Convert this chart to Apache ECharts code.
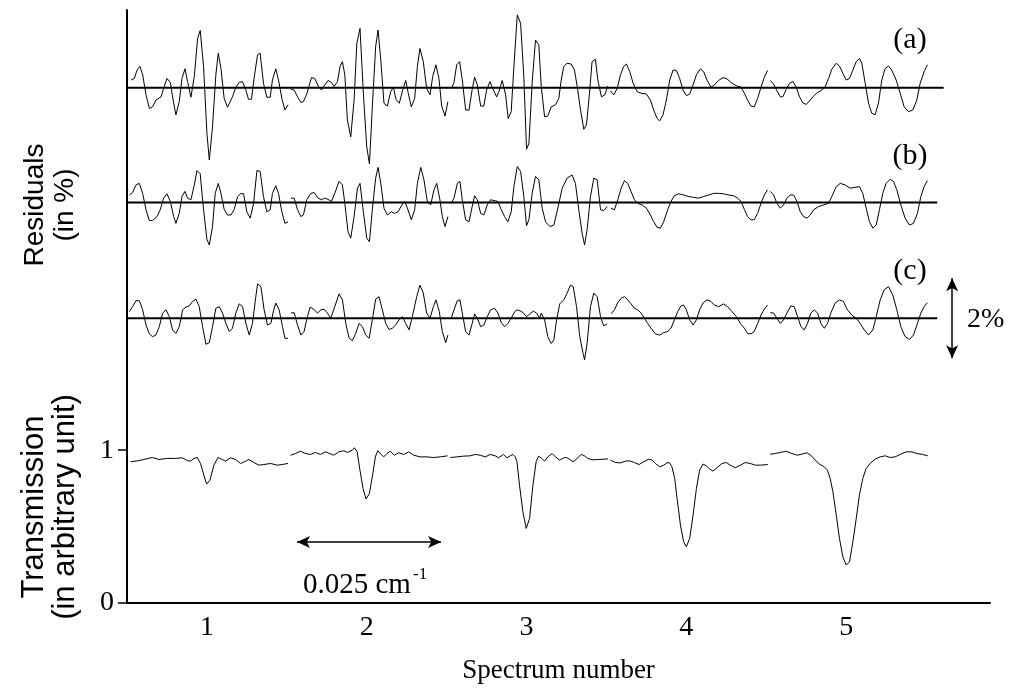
<!DOCTYPE html>
<html><head><meta charset="utf-8">
<script src="https://cdn.jsdelivr.net/npm/echarts@6/dist/echarts.min.js"></script>
<style>html,body{margin:0;padding:0;background:#fff}#c{width:1022px;height:693px}</style>
</head><body><div id="c"></div>
<script>
// Tick labels
const xTickValues = [1, 2, 3, 4, 5];
const yTickValues = [0, 1];

// Transmission (arbitrary unit), one array per spectrum: [spectrum position, transmission]
const transmission1 = [[0.523,0.924],[0.565,0.930],[0.606,0.939],[0.658,0.952],[0.700,0.939],[0.752,0.946],[0.804,0.946],[0.846,0.950],[0.877,0.932],[0.898,0.928],[0.919,0.946],[0.940,0.952],[0.960,0.913],[0.981,0.837],[0.998,0.778],[1.019,0.804],[1.044,0.902],[1.069,0.952],[1.096,0.939],[1.117,0.928],[1.148,0.950],[1.179,0.939],[1.210,0.913],[1.235,0.924],[1.263,0.939],[1.294,0.919],[1.325,0.902],[1.356,0.906],[1.398,0.913],[1.440,0.902],[1.471,0.906],[1.508,0.913]];
const transmission2 = [[1.523,0.967],[1.554,0.978],[1.585,0.993],[1.617,0.978],[1.648,0.972],[1.679,0.985],[1.710,0.972],[1.742,0.989],[1.769,0.978],[1.794,0.967],[1.825,0.989],[1.856,0.996],[1.881,0.985],[1.908,1.000],[1.923,1.015],[1.940,0.989],[1.956,0.880],[1.977,0.749],[1.996,0.680],[2.017,0.717],[2.040,0.858],[2.054,0.956],[2.069,0.996],[2.090,0.972],[2.106,0.956],[2.127,0.978],[2.148,0.993],[2.173,0.967],[2.200,0.983],[2.231,0.972],[2.263,0.989],[2.294,0.967],[2.335,0.956],[2.377,0.956],[2.419,0.952],[2.460,0.956],[2.506,0.963]];
const transmission3 = [[2.523,0.952],[2.565,0.956],[2.606,0.961],[2.648,0.963],[2.679,0.972],[2.710,0.967],[2.742,0.956],[2.773,0.972],[2.804,0.963],[2.825,0.950],[2.856,0.972],[2.877,0.950],[2.898,0.963],[2.915,0.972],[2.929,0.956],[2.940,0.924],[2.956,0.771],[2.977,0.597],[2.998,0.488],[3.019,0.553],[3.040,0.771],[3.060,0.924],[3.075,0.961],[3.096,0.946],[3.113,0.928],[3.133,0.956],[3.160,0.978],[3.181,0.956],[3.208,0.935],[3.233,0.950],[3.250,0.952],[3.271,0.939],[3.292,0.924],[3.317,0.946],[3.342,0.972],[3.363,0.963],[3.383,0.946],[3.410,0.937],[3.452,0.939],[3.510,0.943]];
const transmission4 = [[3.525,0.935],[3.556,0.919],[3.588,0.917],[3.619,0.928],[3.646,0.930],[3.675,0.919],[3.704,0.906],[3.733,0.924],[3.765,0.941],[3.785,0.935],[3.806,0.913],[3.833,0.891],[3.858,0.902],[3.879,0.917],[3.894,0.919],[3.910,0.891],[3.927,0.815],[3.942,0.684],[3.963,0.510],[3.983,0.401],[4.000,0.368],[4.021,0.423],[4.042,0.575],[4.063,0.749],[4.083,0.869],[4.104,0.909],[4.125,0.898],[4.146,0.876],[4.167,0.863],[4.192,0.885],[4.223,0.913],[4.250,0.919],[4.275,0.902],[4.306,0.885],[4.338,0.902],[4.369,0.919],[4.400,0.913],[4.431,0.902],[4.463,0.902],[4.510,0.906]];
const transmission5 = [[4.525,0.974],[4.556,0.978],[4.588,0.985],[4.625,0.993],[4.660,0.978],[4.696,0.967],[4.729,0.976],[4.754,0.983],[4.779,0.967],[4.806,0.935],[4.833,0.909],[4.863,0.891],[4.883,0.869],[4.900,0.815],[4.917,0.728],[4.938,0.575],[4.958,0.423],[4.979,0.303],[5.000,0.248],[5.021,0.270],[5.042,0.401],[5.063,0.553],[5.083,0.706],[5.104,0.815],[5.125,0.880],[5.150,0.913],[5.181,0.941],[5.213,0.956],[5.244,0.963],[5.275,0.952],[5.306,0.956],[5.338,0.972],[5.375,0.989],[5.410,0.989],[5.442,0.978],[5.479,0.972],[5.510,0.963]];

// Residuals (in %), fit (a)
const residualA1 = [[0.525,0.19],[0.546,0.23],[0.563,0.44],[0.581,0.53],[0.598,0.32],[0.619,-0.18],[0.640,-0.52],[0.660,-0.48],[0.681,-0.31],[0.713,-0.23],[0.733,0.03],[0.750,0.23],[0.771,0.13],[0.792,-0.39],[0.806,-0.68],[0.827,-0.35],[0.844,0.23],[0.863,0.47],[0.879,0.15],[0.900,-0.24],[0.921,0.28],[0.942,1.23],[0.958,1.43],[0.979,0.53],[1.000,-1.14],[1.015,-1.81],[1.035,-0.98],[1.056,0.32],[1.071,0.86],[1.088,0.48],[1.108,-0.27],[1.129,-0.49],[1.160,-0.23],[1.181,0.01],[1.202,0.13],[1.223,0.15],[1.244,-0.06],[1.260,-0.29],[1.279,-0.29],[1.296,0.26],[1.317,0.82],[1.333,0.86],[1.354,0.11],[1.375,-0.24],[1.396,-0.24],[1.410,0.19],[1.431,0.47],[1.448,0.19],[1.469,-0.27],[1.488,-0.56],[1.508,-0.43]];
const residualA2 = [[1.525,-0.04],[1.546,-0.06],[1.567,-0.23],[1.588,-0.37],[1.604,-0.35],[1.625,-0.16],[1.654,0.25],[1.675,0.23],[1.696,0.04],[1.717,-0.06],[1.738,0.07],[1.758,0.18],[1.779,0.13],[1.796,0.03],[1.817,0.15],[1.833,0.53],[1.848,0.65],[1.863,0.32],[1.879,-0.81],[1.900,-1.23],[1.921,-0.31],[1.938,1.11],[1.958,1.48],[1.979,-0.14],[2.000,-1.48],[2.017,-1.91],[2.035,-0.48],[2.056,1.03],[2.071,1.44],[2.088,0.69],[2.108,-0.39],[2.129,-0.46],[2.150,-0.10],[2.167,0.01],[2.183,-0.29],[2.204,-0.39],[2.225,-0.06],[2.244,0.18],[2.260,-0.14],[2.279,-0.48],[2.300,-0.27],[2.317,0.53],[2.333,0.98],[2.354,0.65],[2.375,-0.02],[2.396,-0.18],[2.413,0.28],[2.433,0.57],[2.452,0.23],[2.469,-0.46],[2.490,-0.71],[2.508,-0.35]];
const residualA3 = [[2.531,-0.02],[2.546,0.13],[2.563,0.57],[2.581,0.65],[2.598,0.19],[2.619,-0.56],[2.640,-0.56],[2.660,-0.04],[2.675,0.26],[2.692,0.07],[2.713,-0.46],[2.733,-0.46],[2.750,-0.06],[2.771,0.15],[2.788,-0.02],[2.813,-0.23],[2.827,-0.10],[2.848,0.18],[2.869,-0.18],[2.885,-0.77],[2.904,-0.60],[2.921,0.53],[2.942,1.82],[2.963,1.61],[2.983,0.28],[3.000,-1.54],[3.015,-1.39],[3.035,0.11],[3.056,1.19],[3.077,1.07],[3.092,0.03],[3.113,-0.73],[3.133,-0.71],[3.154,-0.48],[3.181,-0.43],[3.202,-0.27],[3.217,0.19],[3.233,0.53],[3.254,0.61],[3.279,0.59],[3.300,0.44],[3.317,0.03],[3.338,-0.56],[3.358,-1.04],[3.375,-0.93],[3.394,-0.14],[3.410,0.65],[3.431,0.71],[3.446,0.19],[3.469,-0.23],[3.490,-0.18],[3.508,0.04]];
const residualA4 = [[3.525,-0.08],[3.546,-0.18],[3.567,-0.02],[3.588,0.32],[3.608,0.53],[3.625,0.59],[3.646,0.40],[3.667,0.11],[3.692,-0.10],[3.717,-0.14],[3.750,-0.16],[3.775,-0.31],[3.796,-0.56],[3.817,-0.77],[3.833,-0.83],[3.854,-0.68],[3.875,-0.31],[3.896,0.19],[3.917,0.44],[3.938,0.43],[3.958,0.23],[3.979,-0.06],[4.000,-0.20],[4.021,-0.16],[4.042,0.07],[4.063,0.32],[4.088,0.47],[4.108,0.40],[4.129,0.19],[4.154,0.01],[4.175,0.07],[4.202,0.18],[4.229,0.25],[4.254,0.22],[4.285,0.11],[4.317,0.04],[4.342,0.01],[4.363,-0.14],[4.383,-0.31],[4.404,-0.46],[4.425,-0.48],[4.446,-0.27],[4.467,0.01],[4.488,0.26],[4.508,0.43]];
const residualA5 = [[4.525,0.18],[4.546,0.09],[4.567,-0.08],[4.588,-0.23],[4.604,-0.23],[4.625,-0.04],[4.646,0.11],[4.667,0.15],[4.688,0.01],[4.708,-0.23],[4.729,-0.38],[4.750,-0.42],[4.771,-0.33],[4.792,-0.23],[4.817,-0.13],[4.848,-0.06],[4.869,0.03],[4.890,0.23],[4.910,0.46],[4.938,0.61],[4.958,0.54],[4.979,0.36],[5.000,0.19],[5.021,0.23],[5.042,0.44],[5.063,0.65],[5.083,0.73],[5.098,0.61],[5.119,0.11],[5.140,-0.39],[5.160,-0.64],[5.181,-0.68],[5.202,-0.39],[5.223,0.19],[5.244,0.48],[5.265,0.54],[5.285,0.44],[5.313,0.19],[5.338,-0.14],[5.363,-0.48],[5.390,-0.60],[5.417,-0.56],[5.442,-0.31],[5.463,0.11],[5.488,0.40],[5.508,0.57]];

// Residuals (in %), fit (b)
const residualB1 = [[0.515,0.19],[0.535,0.25],[0.556,0.44],[0.577,0.48],[0.598,0.23],[0.619,-0.18],[0.640,-0.45],[0.660,-0.45],[0.688,-0.35],[0.708,-0.18],[0.729,0.11],[0.750,0.22],[0.771,0.03],[0.792,-0.35],[0.806,-0.52],[0.827,-0.27],[0.844,0.15],[0.863,0.28],[0.879,0.11],[0.900,0.07],[0.921,0.44],[0.938,0.80],[0.958,0.72],[0.979,-0.18],[1.000,-0.92],[1.015,-1.06],[1.035,-0.60],[1.052,0.23],[1.071,0.48],[1.088,0.23],[1.108,-0.17],[1.129,-0.31],[1.150,-0.31],[1.171,-0.17],[1.192,0.15],[1.213,0.23],[1.229,0.22],[1.250,-0.23],[1.271,-0.39],[1.292,-0.02],[1.313,0.80],[1.333,0.78],[1.354,0.15],[1.375,-0.23],[1.396,-0.18],[1.410,0.23],[1.431,0.42],[1.448,0.23],[1.469,-0.23],[1.488,-0.52],[1.508,-0.48]];
const residualB2 = [[1.525,0.11],[1.546,0.11],[1.567,-0.18],[1.588,-0.35],[1.604,-0.31],[1.625,0.07],[1.650,0.23],[1.671,0.25],[1.696,0.11],[1.717,0.07],[1.738,0.11],[1.758,0.08],[1.779,0.03],[1.800,0.23],[1.827,0.53],[1.848,0.44],[1.863,-0.02],[1.883,-0.73],[1.900,-0.89],[1.921,-0.35],[1.942,0.36],[1.958,0.48],[1.979,-0.23],[2.000,-0.89],[2.017,-0.98],[2.035,-0.18],[2.056,0.61],[2.071,0.88],[2.088,0.48],[2.108,-0.14],[2.129,-0.31],[2.154,-0.23],[2.175,-0.27],[2.196,-0.23],[2.217,-0.08],[2.238,0.03],[2.258,-0.18],[2.279,-0.43],[2.300,-0.18],[2.317,0.48],[2.338,0.88],[2.358,0.57],[2.379,0.03],[2.400,-0.06],[2.421,0.32],[2.438,0.48],[2.458,0.07],[2.473,-0.35],[2.490,-0.60],[2.508,-0.35]];
const residualB3 = [[2.529,-0.02],[2.546,0.11],[2.567,0.48],[2.583,0.53],[2.598,0.07],[2.619,-0.43],[2.640,-0.48],[2.660,-0.10],[2.675,0.17],[2.692,0.07],[2.713,-0.27],[2.733,-0.31],[2.754,-0.06],[2.775,0.07],[2.796,0.05],[2.821,0.03],[2.842,-0.18],[2.863,-0.35],[2.883,-0.48],[2.904,-0.23],[2.921,0.40],[2.942,0.90],[2.963,0.78],[2.983,0.15],[3.000,-0.58],[3.015,-0.43],[3.035,0.23],[3.056,0.65],[3.077,0.57],[3.098,-0.14],[3.119,-0.48],[3.146,-0.60],[3.171,-0.56],[3.196,-0.14],[3.223,0.36],[3.254,0.61],[3.285,0.69],[3.306,0.48],[3.327,-0.18],[3.348,-0.77],[3.363,-1.06],[3.379,-0.68],[3.400,0.15],[3.421,0.61],[3.442,0.57],[3.463,-0.18],[3.483,-0.20],[3.504,-0.10]];
const residualB4 = [[3.529,-0.14],[3.550,-0.18],[3.571,0.07],[3.592,0.36],[3.613,0.55],[3.633,0.48],[3.654,0.28],[3.675,0.07],[3.696,-0.02],[3.723,-0.06],[3.750,-0.14],[3.775,-0.31],[3.796,-0.48],[3.817,-0.62],[3.838,-0.64],[3.858,-0.48],[3.883,-0.18],[3.904,0.03],[3.925,0.17],[3.952,0.22],[3.983,0.19],[4.015,0.15],[4.046,0.13],[4.077,0.11],[4.108,0.15],[4.140,0.19],[4.171,0.23],[4.202,0.23],[4.233,0.22],[4.265,0.19],[4.296,0.17],[4.321,0.11],[4.342,0.03],[4.363,-0.17],[4.383,-0.35],[4.404,-0.43],[4.425,-0.43],[4.446,-0.27],[4.467,-0.02],[4.488,0.19],[4.508,0.32]];
const residualB5 = [[4.525,0.28],[4.546,0.19],[4.567,-0.02],[4.588,-0.14],[4.608,-0.06],[4.629,0.11],[4.650,0.19],[4.671,0.19],[4.692,0.03],[4.713,-0.23],[4.733,-0.35],[4.754,-0.39],[4.775,-0.31],[4.796,-0.18],[4.827,-0.10],[4.858,-0.06],[4.890,-0.02],[4.910,0.15],[4.938,0.40],[4.963,0.48],[4.994,0.44],[5.025,0.36],[5.056,0.38],[5.083,0.40],[5.104,0.23],[5.125,-0.14],[5.146,-0.48],[5.167,-0.64],[5.188,-0.56],[5.208,-0.18],[5.229,0.23],[5.250,0.48],[5.275,0.58],[5.296,0.53],[5.317,0.32],[5.342,-0.06],[5.369,-0.39],[5.396,-0.56],[5.421,-0.52],[5.446,-0.27],[5.467,0.15],[5.488,0.40],[5.508,0.55]];

// Residuals (in %), fit (c)
const residualC1 = [[0.515,0.17],[0.535,0.29],[0.556,0.44],[0.577,0.44],[0.598,0.21],[0.619,-0.17],[0.640,-0.39],[0.660,-0.46],[0.681,-0.42],[0.702,-0.21],[0.723,0.13],[0.744,0.21],[0.765,0.04],[0.785,-0.29],[0.806,-0.38],[0.827,-0.21],[0.848,0.21],[0.869,0.28],[0.890,0.31],[0.910,0.42],[0.931,0.48],[0.952,0.29],[0.973,-0.21],[0.994,-0.65],[1.015,-0.61],[1.035,-0.21],[1.056,0.25],[1.077,0.29],[1.098,0.13],[1.119,-0.13],[1.140,-0.33],[1.160,-0.25],[1.181,0.13],[1.202,0.36],[1.223,0.29],[1.244,-0.13],[1.265,-0.42],[1.285,-0.13],[1.306,0.54],[1.317,0.86],[1.338,0.79],[1.358,0.21],[1.379,-0.17],[1.400,-0.13],[1.417,0.19],[1.431,0.38],[1.452,0.21],[1.473,-0.21],[1.488,-0.50],[1.508,-0.50]];
const residualC2 = [[1.525,0.13],[1.546,0.14],[1.567,-0.17],[1.588,-0.42],[1.608,-0.33],[1.629,0.04],[1.646,0.28],[1.667,0.23],[1.692,0.13],[1.713,0.21],[1.733,0.23],[1.754,0.13],[1.775,0.00],[1.800,0.29],[1.827,0.61],[1.848,0.46],[1.869,-0.13],[1.890,-0.50],[1.910,-0.56],[1.931,-0.38],[1.952,-0.13],[1.973,-0.21],[1.994,-0.42],[2.015,-0.50],[2.035,-0.04],[2.056,0.48],[2.077,0.54],[2.098,0.21],[2.119,-0.13],[2.140,-0.28],[2.160,-0.25],[2.181,-0.17],[2.202,-0.04],[2.223,0.04],[2.244,-0.13],[2.265,-0.29],[2.285,0.04],[2.313,0.54],[2.333,0.83],[2.354,0.63],[2.375,0.13],[2.396,0.00],[2.417,0.29],[2.433,0.46],[2.454,0.17],[2.473,-0.33],[2.494,-0.61],[2.508,-0.42]];
const residualC3 = [[2.529,0.00],[2.546,0.21],[2.567,0.44],[2.583,0.46],[2.598,0.13],[2.619,-0.33],[2.640,-0.42],[2.660,-0.13],[2.675,0.11],[2.692,0.00],[2.713,-0.21],[2.733,-0.17],[2.754,0.04],[2.775,0.21],[2.800,0.25],[2.821,0.13],[2.842,-0.11],[2.863,-0.21],[2.883,-0.13],[2.904,0.00],[2.921,0.13],[2.938,0.21],[2.958,0.19],[2.979,0.14],[3.000,0.04],[3.021,0.11],[3.042,0.18],[3.063,0.13],[3.083,0.00],[3.092,0.13],[3.113,-0.04],[3.133,-0.46],[3.154,-0.63],[3.171,-0.54],[3.188,-0.04],[3.208,0.36],[3.233,0.46],[3.254,0.63],[3.275,0.83],[3.292,0.79],[3.313,0.29],[3.333,-0.46],[3.354,-0.88],[3.363,-1.04],[3.379,-0.63],[3.400,0.29],[3.421,0.63],[3.442,0.54],[3.463,0.04],[3.483,-0.19],[3.504,-0.14]];
const residualC4 = [[3.529,0.11],[3.550,0.21],[3.571,0.39],[3.592,0.50],[3.613,0.54],[3.633,0.46],[3.654,0.36],[3.675,0.25],[3.696,0.21],[3.717,0.13],[3.738,0.00],[3.758,-0.13],[3.779,-0.25],[3.806,-0.39],[3.833,-0.42],[3.858,-0.36],[3.883,-0.33],[3.904,-0.25],[3.925,-0.04],[3.946,0.17],[3.967,0.31],[3.983,0.33],[4.000,0.21],[4.021,-0.04],[4.042,-0.17],[4.063,-0.04],[4.083,0.21],[4.104,0.38],[4.129,0.46],[4.154,0.42],[4.175,0.33],[4.202,0.29],[4.233,0.36],[4.258,0.29],[4.285,0.17],[4.313,0.04],[4.338,-0.13],[4.363,-0.25],[4.383,-0.38],[4.404,-0.39],[4.425,-0.33],[4.446,-0.13],[4.467,0.08],[4.488,0.23],[4.508,0.33]];
const residualC5 = [[4.525,0.14],[4.546,0.13],[4.567,0.00],[4.588,-0.13],[4.608,-0.04],[4.629,0.13],[4.654,0.31],[4.675,0.29],[4.696,0.04],[4.717,-0.21],[4.738,-0.29],[4.758,-0.13],[4.779,0.13],[4.800,0.21],[4.821,0.13],[4.842,-0.13],[4.863,-0.25],[4.883,-0.13],[4.904,0.13],[4.931,0.38],[4.958,0.46],[4.983,0.42],[5.008,0.21],[5.035,0.08],[5.063,0.00],[5.088,-0.13],[5.113,-0.29],[5.140,-0.42],[5.167,-0.29],[5.188,0.04],[5.213,0.46],[5.238,0.71],[5.265,0.79],[5.292,0.58],[5.317,0.21],[5.342,-0.21],[5.369,-0.46],[5.396,-0.53],[5.421,-0.42],[5.446,-0.13],[5.467,0.13],[5.488,0.29],[5.508,0.39]];

// Residual panels: zero line position on the shared y scale, and y units per 1 %
const residualBaselines = [3.372, 2.620, 1.863];
const percentScale = 0.2618;

const residualTraces = [
  [residualA1, residualA2, residualA3, residualA4, residualA5],
  [residualB1, residualB2, residualB3, residualB4, residualB5],
  [residualC1, residualC2, residualC3, residualC4, residualC5]
];
const transmissionTrace = [transmission1, transmission2, transmission3, transmission4, transmission5];
const baselineEnds = [5.61, 5.57, 5.57];

const serif = '"Liberation Serif", "Times New Roman", serif';
const sans = '"Liberation Sans", Arial, sans-serif';

function traceSeries(points) {
  return { type: 'line', data: points, symbol: 'none', showSymbol: false, silent: true,
    lineStyle: { color: '#000', width: 1 }, z: 3, animation: false };
}

const series = [];
transmissionTrace.forEach(seg => series.push(traceSeries(seg)));
residualTraces.forEach((trace, i) => {
  const base = residualBaselines[i];
  trace.forEach(seg => series.push(traceSeries(seg.map(p => [p[0], base + p[1] * percentScale]))));
  series.push({ type: 'line', data: [[0.5, base], [baselineEnds[i], base]], symbol: 'none', silent: true,
    lineStyle: { color: '#000', width: 2 }, z: 2, animation: false });
});

// annotation arrows (0.025 cm-1 scale bar and 2 % bar)
series.push({ type: 'line', data: [], silent: true, animation: false,
  markLine: { silent: true, animation: false, symbol: ['arrow', 'arrow'], symbolSize: [9, 13],
    label: { show: false }, lineStyle: { color: '#000', width: 1.5, type: 'solid' },
    data: [
      [{ coord: [1.564, 0.399] }, { coord: [2.465, 0.399] }],
      [{ coord: [5.663, residualBaselines[2] - percentScale] }, { coord: [5.663, residualBaselines[2] + percentScale] }]
    ] } });

const chart = echarts.init(document.getElementById('c'), null, { renderer: 'canvas' });
chart.setOption({
  animation: false,
  backgroundColor: '#fff',
  grid: { left: 127, right: 32, top: 10, bottom: 90, containLabel: false },
  xAxis: {
    type: 'value', min: 0.5, max: 5.9,
    axisLine: { show: true, onZero: false, lineStyle: { color: '#000', width: 2 } },
    axisTick: { show: false }, splitLine: { show: false },
    axisLabel: { customValues: xTickValues, color: '#000', fontFamily: serif, fontSize: 28, margin: 11 },
    name: 'Spectrum number', nameLocation: 'middle', nameGap: 54,
    nameTextStyle: { color: '#000', fontFamily: serif, fontSize: 27 }
  },
  yAxis: {
    type: 'value', min: 0, max: 3.88,
    axisLine: { show: true, onZero: false, lineStyle: { color: '#000', width: 2 } },
    axisTick: { show: true, customValues: yTickValues, length: 9, lineStyle: { color: '#000', width: 1.5 } },
    splitLine: { show: false },
    axisLabel: { customValues: yTickValues, color: '#000', fontFamily: serif, fontSize: 28, margin: 13 }
  },
  graphic: [
    { type: 'text', x: 910, y: 40, style: { text: '(a)', font: '30px ' + serif, fill: '#000', align: 'center', verticalAlign: 'middle' } },
    { type: 'text', x: 910, y: 156, style: { text: '(b)', font: '30px ' + serif, fill: '#000', align: 'center', verticalAlign: 'middle' } },
    { type: 'text', x: 910, y: 271, style: { text: '(c)', font: '30px ' + serif, fill: '#000', align: 'center', verticalAlign: 'middle' } },
    { type: 'text', x: 967, y: 320, style: { text: '2%', font: '28px ' + serif, fill: '#000', align: 'left', verticalAlign: 'middle' } },
    { type: 'text', x: 303, y: 585, style: { text: '0.025 cm', font: '29px ' + serif, fill: '#000', align: 'left', verticalAlign: 'middle' } },
    { type: 'text', x: 413, y: 575, style: { text: '-1', font: '17px ' + serif, fill: '#000', align: 'left', verticalAlign: 'middle' } },
    { type: 'text', x: 50, y: 205, rotation: Math.PI / 2,
      style: { text: 'Residuals\n(in %)', font: '28px ' + sans, lineHeight: 30, fill: '#000', align: 'center', verticalAlign: 'middle' } },
    { type: 'text', x: 50, y: 507, rotation: Math.PI / 2,
      style: { text: 'Transmission\n(in arbitrary unit)', font: '31px ' + sans, lineHeight: 31, fill: '#000', align: 'center', verticalAlign: 'middle' } }
  ],
  series: series
});
</script></body></html>
